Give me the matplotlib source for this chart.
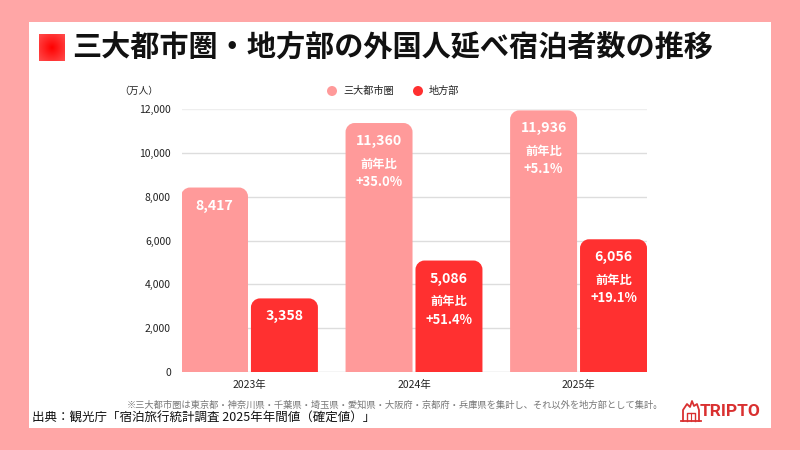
import matplotlib
matplotlib.use("Agg")
import matplotlib.pyplot as plt
import numpy as np
from matplotlib.path import Path
from matplotlib.patches import PathPatch, Rectangle, Ellipse
from matplotlib.lines import Line2D

plt.rcParams['font.family'] = ['Noto Sans CJK JP', 'DejaVu Sans']

years = ["2023年", "2024年", "2025年"]
metro = [8417, 11360, 11936]
local = [3358, 5086, 6056]
metro_yoy = [None, "+35.0%", "+5.1%"]
local_yoy = [None, "+51.4%", "+19.1%"]
yticks = [0, 2000, 4000, 6000, 8000, 10000, 12000]
series_names = ["三大都市圏", "地方部"]

PINK = "#FF9A9A"
RED = "#FF3030"
BG = "#FFA6A6"

W, H = 800, 450
fig = plt.figure(figsize=(8, 4.5), dpi=100)
fig.patch.set_facecolor(BG)

def fx(x): return x / W
def fy(y): return 1 - y / H

# white panel
fig.add_artist(Rectangle((fx(29), fy(428)), fx(771) - fx(29), fy(22) - fy(428),
                         transform=fig.transFigure, facecolor="white", edgecolor="none", zorder=-10))

# title icon with radial gradient
iax = fig.add_axes([fx(39), fy(61), fx(65) - fx(39), fy(34) - fy(61)])
g = np.linspace(-1, 1, 60)
XX, YY = np.meshgrid(g, g)
R = np.clip(np.sqrt(XX**2 + YY**2) / 1.4, 0, 1)
c0 = np.array([1.0, 0.0, 0.0]); c1 = np.array([1.0, 0.3, 0.3])
img = c0[None, None, :] * (1 - R[..., None]) + c1[None, None, :] * R[..., None]
iax.imshow(img, aspect="auto")
iax.axis("off")

fig.text(fx(72), fy(47), "三大都市圏・地方部の外国人延べ宿泊者数の推移", fontsize=21,
         fontweight="bold", color="#111111", va="center", ha="left")

# main axes
left_px, right_px, top_px, bot_px = 182, 647, 109, 372
ax = fig.add_axes([fx(left_px), fy(bot_px), fx(right_px) - fx(left_px), fy(top_px) - fy(bot_px)])
ax.set_facecolor("none")
ax.set_ylim(0, 12000)
ax.set_xlim(-0.41, 2.416)
x = np.arange(len(years))
bw = 0.407
off = 0.2125

ax.set_yticks(yticks)
ax.set_yticklabels([f"{v:,}" for v in yticks], fontsize=7.5, color="#222222")
ax.set_xticks(x)
ax.set_xticklabels(years, fontsize=7.5, color="#222222")
ax.tick_params(length=0, pad=8)
ax.tick_params(axis="x", pad=6)
for s in ax.spines.values():
    s.set_visible(False)
for v in yticks[1:]:
    ax.axhline(v, color="#eeeeee" if v == 12000 else "#dddddd", lw=1.0, zorder=0)
ax.axhline(0, color="#cccccc", lw=1.0, zorder=0)

px_per_x = (right_px - left_px) / (2.416 + 0.41)
px_per_y = (bot_px - top_px) / 12000.0
rpx = 9
rx = rpx / px_per_x
ry = rpx / px_per_y

def rounded(rect, color):
    x0 = rect.get_x(); w = rect.get_width(); h = rect.get_height()
    x1 = x0 + w
    k = 0.5523
    verts = [(x0, 0), (x0, h - ry),
             (x0, h - ry + k * ry), (x0 + rx - k * rx, h), (x0 + rx, h),
             (x1 - rx, h),
             (x1 - rx + k * rx, h), (x1, h - ry + k * ry), (x1, h - ry),
             (x1, 0), (x0, 0)]
    codes = [Path.MOVETO, Path.LINETO, Path.CURVE4, Path.CURVE4, Path.CURVE4,
             Path.LINETO, Path.CURVE4, Path.CURVE4, Path.CURVE4, Path.LINETO, Path.CLOSEPOLY]
    rect.set_visible(False)
    ax.add_patch(PathPatch(Path(verts, codes), facecolor=color, edgecolor="none", zorder=2))

b1 = ax.bar(x - off, metro, bw, color=PINK)
b2 = ax.bar(x + off, local, bw, color=RED)
for r in b1: rounded(r, PINK)
for r in b2: rounded(r, RED)

def labels(xs, vals, yoys):
    for xi, v, yy in zip(xs, vals, yoys):
        top = v
        ax.text(xi, top - 18 / px_per_y, f"{v:,}", ha="center", va="center", color="white",
                fontsize=10.2, fontweight="bold", zorder=3)
        if yy:
            ax.text(xi, top - 41 / px_per_y, "前年比", ha="center", va="center", color="white",
                    fontsize=8.8, fontweight="bold", zorder=3)
            ax.text(xi, top - 59 / px_per_y, yy, ha="center", va="center", color="white",
                    fontsize=9.3, fontweight="bold", zorder=3)

labels(x - off, metro, metro_yoy)
labels(x + off, local, local_yoy)

# unit label
fig.text(fx(119), fy(91), "（万人）", fontsize=7, color="#222222", va="center", ha="left")

# legend
for cx, col, name in [(332, PINK, series_names[0]), (418, RED, series_names[1])]:
    fig.add_artist(Ellipse((fx(cx), fy(91)), 10.0 / W, 10.0 / H, transform=fig.transFigure,
                           facecolor=col, edgecolor="none"))
    fig.text(fx(cx + 11), fy(91), name, fontsize=7.3, va="center", ha="left", color="#222222")

# footnote
fig.text(fx(395), fy(405), "※三大都市圏は東京都・神奈川県・千葉県・埼玉県・愛知県・大阪府・京都府・兵庫県を集計し、それ以外を地方部として集計。",
         fontsize=6.7, color="#777777", ha="center", va="center")
fig.text(fx(32), fy(418), "出典：観光庁「宿泊旅行統計調査 2025年年間値（確定値）」", fontsize=9,
         color="#111111", ha="left", va="center")

# logo
LOGO = "#D93030"
fig.text(fx(700), fy(412), "TRIPTO", fontsize=12.5, fontweight="bold", color=LOGO,
         ha="left", va="center", family=["Roboto", "DejaVu Sans"])
hx = [683, 683, 687, 690, 692, 694, 697, 699, 699]
hy = [421, 410, 404, 407, 401, 406, 404, 410, 421]
fig.add_artist(Line2D([fx(v) for v in hx], [fy(v) for v in hy], transform=fig.transFigure,
                      color=LOGO, lw=1.3))
fig.add_artist(Line2D([fx(681), fx(701)], [fy(421), fy(421)], transform=fig.transFigure,
                      color=LOGO, lw=1.3))
fig.add_artist(Line2D([fx(687), fx(687), fx(695), fx(695)], [fy(421), fy(413), fy(413), fy(421)],
                      transform=fig.transFigure, color=LOGO, lw=1.0))
fig.add_artist(Line2D([fx(691), fx(691)], [fy(421), fy(413)], transform=fig.transFigure,
                      color=LOGO, lw=0.8))

fig.savefig("out.png", dpi=100, facecolor=BG)
